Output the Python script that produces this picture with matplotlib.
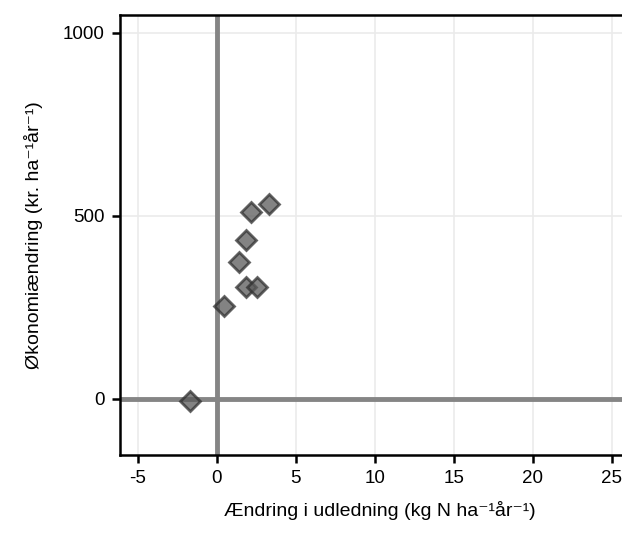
import matplotlib
matplotlib.use('Agg')
import matplotlib.pyplot as plt

plt.rcParams['font.family'] = ['Liberation Sans', 'DejaVu Sans']

# change in N discharge (kg N/ha/yr) and economy change (kr/ha/yr)
udledning = [3.27, 2.15, 1.81, 1.39, 1.86, 2.53, 0.44, -1.69]
okonomi = [532, 510, 434, 374, 305, 307, 254, -5]

fig = plt.figure(figsize=(6.22, 5.37), dpi=100)
ax = fig.add_axes([0.193, 0.153, 0.836, 0.819])

ax.set_axisbelow(True)
ax.grid(True, color='#ebebeb', linewidth=1.2)
ax.axvline(0, color='#858585', linewidth=3.5, zorder=2)
ax.axhline(0, color='#858585', linewidth=3.5, zorder=2)

ax.plot(udledning, okonomi, linestyle='none', marker='D', markersize=10,
        markerfacecolor='#5a5a5a', markeredgecolor='#303030', markeredgewidth=2,
        alpha=0.75, zorder=3)

ax.set_xlim(-6.14, 26.8)
ax.set_ylim(-153, 1049)
ax.set_xticks([-5, 0, 5, 10, 15, 20, 25])
ax.set_xticklabels(['-5', '0', '5', '10', '15', '20', '25'])
ax.set_yticks([0, 500, 1000])

for s in ax.spines.values():
    s.set_linewidth(1.8)
ax.tick_params(direction='out', length=6, width=1.8, labelsize=13.5, colors='black', pad=5)

ax.set_xlabel('Ændring i udledning (kg N ha⁻¹år⁻¹)', fontsize=14, labelpad=10)
ax.set_ylabel('Økonomiændring (kr. ha⁻¹år⁻¹)', fontsize=14, labelpad=14)

fig.savefig('out.png', dpi=100)
